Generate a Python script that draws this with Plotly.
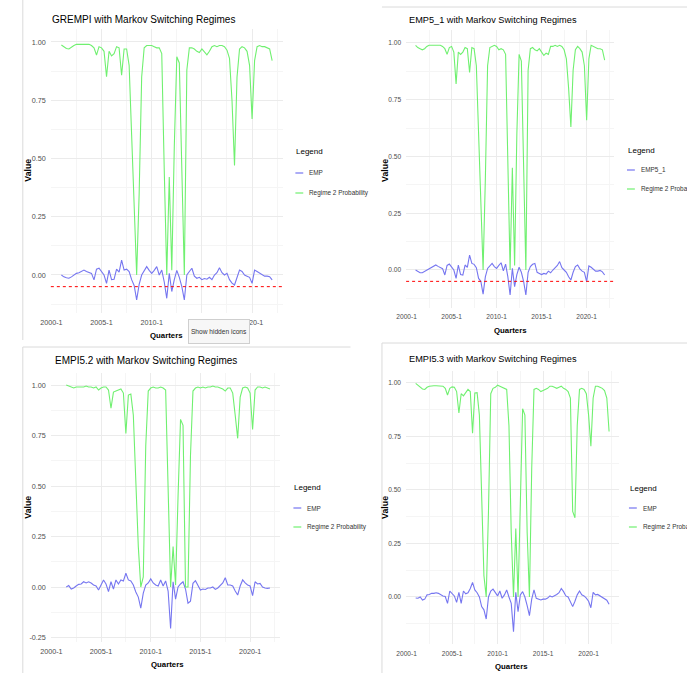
import plotly.graph_objects as go

W, H = 687, 673

# ---------------- data (quarterly) ----------------
start_a = 2001.0   # first quarter of GREMPI, EMP5_1, EMPI5.3 series
start_b = 2001.5   # first quarter of EMPI5.2 series

grempi_emp = [0.0, -0.008, -0.012, -0.014, -0.008, 0.0, 0.007, 0.01, 0.015, 0.021,
              0.015, 0.01, 0.007, -0.021, 0.025, 0.029, 0.014, 0.0, -0.036, 0.021,
              -0.02, -0.018, 0.025, 0.012, 0.064, 0.021, 0.025, 0.015, -0.02, -0.045,
              -0.107, -0.04, 0.0, 0.021, 0.036, 0.02, 0.007, 0.02, 0.036, 0.0,
              0.021, -0.03, -0.1, 0.007, -0.071, -0.02, 0.02, -0.01, -0.05, -0.107,
              0.0, 0.015, 0.029, -0.005, -0.014, -0.01, -0.02, -0.015, -0.018, -0.01,
              -0.02, 0.0, 0.01, 0.031, 0.01, 0.0, 0.007, -0.02, -0.035, -0.043,
              -0.01, 0.021, 0.015, 0.0, -0.005, -0.01, -0.036, 0.021, 0.015, 0.007,
              0.0, -0.005, -0.005, -0.007, -0.021]
grempi_regime2 = [0.987, 0.98, 0.972, 0.97, 0.978, 0.985, 0.99, 0.99, 0.99, 0.99,
                  0.99, 0.99, 0.985, 0.975, 0.944, 0.98, 0.975, 0.96, 0.851, 0.96,
                  0.94, 0.95, 0.98, 0.975, 0.857, 0.97, 0.97, 0.9, 0.6, 0.3,
                  0.0, 0.35, 0.85, 0.975, 0.985, 0.985, 0.985, 0.98, 0.975, 0.975,
                  0.95, 0.45, 0.0, 0.42, 0.02, 0.55, 0.937, 0.91, 0.5, 0.0,
                  0.88, 0.975, 0.975, 0.97, 0.96, 0.955, 0.97, 0.955, 0.945, 0.96,
                  0.98, 0.985, 0.98, 0.985, 0.985, 0.98, 0.965, 0.93, 0.75, 0.47,
                  0.85, 0.97, 0.98, 0.975, 0.96, 0.9, 0.67, 0.92, 0.98, 0.985,
                  0.98, 0.98, 0.975, 0.97, 0.92]

emp51_emp = [0.0, -0.008, -0.012, -0.012, -0.006, 0.0, 0.005, 0.012, 0.015, 0.022,
             0.016, 0.01, 0.006, -0.022, 0.02, 0.026, 0.012, 0.0, -0.037, 0.022,
             -0.02, -0.022, 0.022, 0.012, 0.066, 0.029, 0.025, 0.01, -0.037, -0.05,
             -0.106, -0.03, 0.007, 0.018, 0.029, 0.015, 0.007, 0.02, 0.032, -0.004,
             0.026, -0.03, -0.11, 0.007, -0.073, -0.02, 0.012, -0.01, -0.05, -0.11,
             -0.01, 0.015, 0.025, 0.029, -0.01, -0.015, -0.02, -0.015, -0.018, -0.005,
             -0.012, 0.0, 0.01, 0.02, 0.037, 0.01, 0.0, -0.01, -0.03, -0.044,
             -0.01, 0.015, 0.022, 0.005, -0.005, -0.01, -0.051, 0.018, 0.012, 0.005,
             -0.005, -0.005, -0.002, -0.008, -0.022]
emp51_regime2 = [0.99, 0.98, 0.975, 0.97, 0.975, 0.985, 0.99, 0.99, 0.99, 0.99,
                 0.99, 0.99, 0.985, 0.975, 0.95, 0.98, 0.985, 0.96, 0.82, 0.96,
                 0.95, 0.96, 0.98, 0.975, 0.87, 0.98, 0.975, 0.9, 0.6, 0.3,
                 0.0, 0.4, 0.9, 0.98, 0.985, 0.99, 0.985, 0.97, 0.975, 0.97,
                 0.95, 0.4, 0.0, 0.45, 0.02, 0.6, 0.95, 0.92, 0.45, 0.0,
                 0.88, 0.975, 0.98, 0.97, 0.965, 0.975, 0.96, 0.945, 0.955, 0.95,
                 0.985, 0.985, 0.99, 0.985, 0.99, 0.985, 0.97, 0.93, 0.8, 0.63,
                 0.88, 0.97, 0.985, 0.975, 0.96, 0.9, 0.66, 0.93, 0.99, 0.985,
                 0.98, 0.975, 0.975, 0.97, 0.925]

empi52_emp = [0.0, 0.007, -0.01, -0.005, 0.005, 0.013, 0.015, 0.026, 0.02, 0.026,
              0.02, 0.01, 0.005, -0.015, 0.01, 0.035, 0.015, -0.023, 0.026, -0.01,
              0.035, 0.015, 0.035, 0.03, 0.068, 0.035, 0.03, 0.01, -0.025, -0.05,
              -0.105, -0.03, 0.01, 0.02, 0.04, 0.02, 0.01, 0.005, 0.035, 0.005,
              0.03, -0.02, -0.205, 0.026, -0.06, 0.0, 0.015, 0.026, -0.01, -0.08,
              -0.07, 0.018, 0.031, 0.005, -0.015, -0.01, -0.012, -0.005, -0.005, 0.0,
              -0.012, -0.005, 0.01, 0.02, 0.046, 0.01, 0.01, 0.005, -0.02, -0.04,
              0.005, 0.035, 0.02, 0.01, 0.005, -0.043, 0.026, 0.015, 0.018, 0.0,
              -0.005, -0.007, -0.005]
empi52_regime2 = [1.0, 0.995, 0.99, 0.985, 0.99, 0.99, 0.99, 0.99, 0.995, 0.99,
                  0.99, 0.985, 0.99, 0.975, 0.985, 0.99, 0.99, 0.975, 0.885, 0.965,
                  0.97, 0.975, 0.98, 0.96, 0.76, 0.95, 0.955, 0.85, 0.5, 0.2,
                  0.0, 0.05, 0.7, 0.97, 0.985, 0.99, 0.985, 0.985, 0.99, 0.985,
                  0.975, 0.5, 0.0, 0.2, 0.01, 0.45, 0.83, 0.8, 0.0, 0.0,
                  0.65, 0.97, 0.985, 0.99, 0.985, 0.99, 0.985, 0.99, 0.99, 0.995,
                  0.99, 0.99, 0.985, 0.98, 0.97, 0.985, 0.985, 0.96, 0.85, 0.736,
                  0.94, 0.985, 0.99, 0.985, 0.96, 0.78, 0.975, 0.99, 0.99, 0.985,
                  0.99, 0.985, 0.98]

empi53_emp = [-0.005, -0.006, 0.0, -0.014, -0.01, 0.01, 0.012, 0.017, 0.017, 0.02,
              0.017, 0.01, 0.005, 0.002, -0.03, 0.028, 0.015, 0.005, -0.025, 0.022,
              -0.03, 0.028, 0.015, 0.02, 0.04, 0.068, 0.033, 0.02, 0.0, -0.045,
              -0.06, -0.103, 0.0, 0.028, 0.037, 0.02, 0.005, 0.028, -0.006, 0.01,
              0.033, 0.0, -0.03, -0.162, 0.022, -0.069, 0.01, 0.025, 0.0, -0.04,
              -0.087, -0.01, 0.033, -0.006, -0.01, -0.014, -0.01, -0.01, -0.005, 0.005,
              0.0, 0.005, 0.012, 0.02, 0.04, 0.025, 0.005, 0.0, -0.02, -0.045,
              -0.02, 0.01, 0.028, 0.01, 0.005, -0.005, -0.02, -0.05, 0.022, 0.01,
              0.012, 0.005, -0.005, -0.01, -0.015, -0.034]
empi53_regime2 = [0.998, 0.99, 0.98, 0.972, 0.97, 0.98, 0.985, 0.987, 0.987, 0.987,
                  0.987, 0.987, 0.985, 0.975, 0.944, 0.975, 0.982, 0.98, 0.96, 0.86,
                  0.95, 0.94, 0.955, 0.97, 0.96, 0.765, 0.953, 0.955, 0.85, 0.4,
                  0.1, 0.0, 0.4, 0.95, 0.975, 0.98, 0.99, 0.985, 0.98, 0.975,
                  0.97, 0.8, 0.3, 0.0, 0.32, 0.0, 0.5, 0.88, 0.85, 0.3,
                  0.0, 0.6, 0.97, 0.975, 0.97, 0.96, 0.965, 0.97, 0.975, 0.985,
                  0.985, 0.98, 0.975, 0.98, 0.985, 0.975, 0.97, 0.96, 0.93, 0.4,
                  0.37, 0.8, 0.97, 0.975, 0.97, 0.95, 0.85, 0.705, 0.93, 0.985,
                  0.985, 0.98, 0.975, 0.965, 0.93, 0.773]

year_ticks = [2000, 2005, 2010, 2015, 2020]
year_labels = ["2000-1", "2005-1", "2010-1", "2015-1", "2020-1"]
year_minor = [2002.5, 2007.5, 2012.5, 2017.5, 2022.5]
value_ticks = [-0.25, 0.0, 0.25, 0.5, 0.75, 1.0]
value_minor = [-0.375, -0.125, 0.125, 0.375, 0.625, 0.875]
threshold = -0.05

titles = ["GREMPI with Markov Switching Regimes", "EMP5_1 with Markov Switching Regimes",
          "EMPI5.2 with Markov Switching Regimes", "EMPI5.3 with Markov Switching Regimes"]
emp_names = ["EMP", "EMP5_1", "EMP", "EMP"]

# ---------------- styling / layout ----------------
FONT = "Liberation Sans, Arial, sans-serif"
BLUE = "rgb(118,118,240)"
GREEN = "rgb(112,240,112)"

# per panel: x pixel of year 2000, px/yr, x-range, y pixel of 0, px/unit, y-range
panels = [
    dict(x0=41, ppy=10.2, xr=[1999.95, 2023.05], y0=275, ppu=233, yr=[-0.162, 1.055],
         start=start_a, emp=grempi_emp, reg=grempi_regime2, hline=True, big=True,
         title=(40, 19), ytitle=(17, 170), xtitle=(158, 335),
         leg=(288, 152, 173, 193)),
    dict(x0=402, ppy=9.15, xr=[1999.95, 2023.05], y0=270, ppu=227, yr=[-0.166, 1.056],
         start=start_a, emp=emp51_emp, reg=emp51_regime2, hline=True, big=False,
         title=(402, 20), ytitle=(380, 170), xtitle=(508, 330),
         leg=(625, 150, 170, 189)),
    dict(x0=41, ppy=10.1, xr=[1999.95, 2023.05], y0=587, ppu=202, yr=[-0.27, 1.06],
         start=start_b, emp=empi52_emp, reg=empi52_regime2, hline=False, big=True,
         title=(43, 360), ytitle=(17, 507), xtitle=(159, 664),
         leg=(286, 487, 508, 527)),
    dict(x0=402, ppy=9.25, xr=[1999.94, 2023.31], y0=597, ppu=214, yr=[-0.22, 1.058],
         start=start_a, emp=empi53_emp, reg=empi53_regime2, hline=False, big=False,
         title=(402, 359), ytitle=(380, 507), xtitle=(509, 666),
         leg=(627, 488, 508, 527)),
]

fig = go.Figure()
annotations = []
shapes = []

def px(x):
    return x / W

def py(y):
    return 1 - y / H

for k, p in enumerate(panels, start=1):
    xs = "" if k == 1 else str(k)
    xq = [p["start"] + i / 4 for i in range(len(p["emp"]))]
    xq2 = [p["start"] + i / 4 for i in range(len(p["reg"]))]
    fig.add_trace(go.Scatter(x=xq, y=p["emp"], mode="lines", name=emp_names[k - 1],
                             line=dict(color=BLUE, width=1.1), showlegend=False,
                             xaxis="x" + xs, yaxis="y" + xs))
    fig.add_trace(go.Scatter(x=xq2, y=p["reg"], mode="lines", name="Regime 2 Probability",
                             line=dict(color=GREEN, width=1.1), showlegend=False,
                             xaxis="x" + xs, yaxis="y" + xs))

    dx = [(p["x0"] + (p["xr"][0] - 2000) * p["ppy"]) / W,
          (p["x0"] + (p["xr"][1] - 2000) * p["ppy"]) / W]
    top = p["y0"] - p["yr"][1] * p["ppu"]
    bot = p["y0"] - p["yr"][0] * p["ppu"]
    dy = [1 - bot / H, 1 - top / H]

    big = p["big"]
    tick_fs = 7.2 if big else 6.6
    fig.layout["xaxis" + xs] = dict(
        domain=dx, range=p["xr"], anchor="y" + xs, showline=False, zeroline=False,
        ticks="", tickmode="array", tickvals=year_ticks, ticktext=year_labels,
        showgrid=True, gridcolor="#EBEBEB", gridwidth=1, ticklabelstandoff=4,
        tickfont=dict(family=FONT, size=tick_fs, color="#4D4D4D"),
        minor=dict(tickmode="array", tickvals=year_minor, showgrid=True,
                   gridcolor="#F5F5F5", gridwidth=1))
    fig.layout["yaxis" + xs] = dict(
        domain=dy, range=p["yr"], anchor="x" + xs, showline=False, zeroline=False,
        ticks="", tickmode="array", tickvals=value_ticks,
        ticktext=["%.2f" % v for v in value_ticks],
        showgrid=True, gridcolor="#EBEBEB", gridwidth=1, ticklabelstandoff=4,
        tickfont=dict(family=FONT, size=tick_fs, color="#4D4D4D"),
        minor=dict(tickmode="array", tickvals=value_minor, showgrid=True,
                   gridcolor="#F5F5F5", gridwidth=1))

    if p["hline"]:
        shapes.append(dict(type="line", xref="x" + xs + " domain", yref="y" + xs,
                           x0=0, x1=1, y0=threshold, y1=threshold,
                           line=dict(color="red", width=1, dash="dot"), layer="above"))

    tx, ty = p["title"]
    annotations.append(dict(text=titles[k - 1], x=px(tx), y=py(ty), xref="paper", yref="paper",
                            xanchor="left", yanchor="middle", showarrow=False,
                            font=dict(family=FONT, size=10 if big else 9.2, color="black")))
    vx, vy = p["ytitle"]
    annotations.append(dict(text="<b>Value</b>", x=px(vx), y=py(vy), xref="paper", yref="paper",
                            xanchor="center", yanchor="middle", showarrow=False, textangle=-90,
                            font=dict(family=FONT, size=8.8, color="black")))
    qx, qy = p["xtitle"]
    annotations.append(dict(text="<b>Quarters</b>", x=px(qx), y=py(qy), xref="paper", yref="paper",
                            xanchor="center", yanchor="middle", showarrow=False,
                            font=dict(family=FONT, size=7.8, color="black")))

    lx, ly0, ly1, ly2 = p["leg"]
    annotations.append(dict(text="Legend", x=px(lx), y=py(ly0), xref="paper", yref="paper",
                            xanchor="left", yanchor="middle", showarrow=False,
                            font=dict(family=FONT, size=8, color="black")))
    for label, yy, col in ((emp_names[k - 1], ly1, BLUE), ("Regime 2 Probability", ly2, GREEN)):
        shapes.append(dict(type="line", xref="paper", yref="paper",
                           x0=px(lx + 1), x1=px(lx + 9), y0=py(yy), y1=py(yy),
                           line=dict(color=col, width=1.2)))
        annotations.append(dict(text=label, x=px(lx + 13), y=py(yy), xref="paper", yref="paper",
                                xanchor="left", yanchor="middle", showarrow=False,
                                font=dict(family=FONT, size=6.4, color="#333333")))

# screenshot frame edges of the composite
frame = [(12, 0, 12, 340), (12, 347, 12, 673), (12, 347, 345, 347),
         (377, 7, 687, 7), (377, 343, 687, 343), (377, 343, 377, 673)]
for x0, y0, x1, y1 in frame:
    shapes.append(dict(type="line", xref="paper", yref="paper",
                       x0=px(x0), x1=px(x1), y0=py(y0), y1=py(y1),
                       line=dict(color="#DADADA", width=1), layer="above"))

# Windows tooltip captured in the first screenshot
annotations.append(dict(text="Show hidden icons", x=px(211.5), y=py(331), xref="paper", yref="paper",
                        xanchor="center", yanchor="middle", showarrow=False,
                        width=58, height=21, bgcolor="#F7F7F7", bordercolor="#CFCFCF",
                        borderwidth=1, borderpad=1,
                        font=dict(family=FONT, size=6.6, color="#333333")))

fig.update_layout(width=W, height=H, margin=dict(l=0, r=0, t=0, b=0),
                  paper_bgcolor="white", plot_bgcolor="white",
                  annotations=annotations, shapes=shapes, showlegend=False)

post = ("document.documentElement.style.margin='0px';"
        "document.body.style.margin='0px';document.body.style.padding='0px';"
        "document.documentElement.style.overflow='hidden';document.body.style.overflow='hidden';"
        "var gd=document.getElementById('{plot_id}');"
        "gd.style.position='fixed';gd.style.left='0px';gd.style.top='0px';")

fig.write_html("out.html", config={"displayModeBar": False}, post_script=post)
